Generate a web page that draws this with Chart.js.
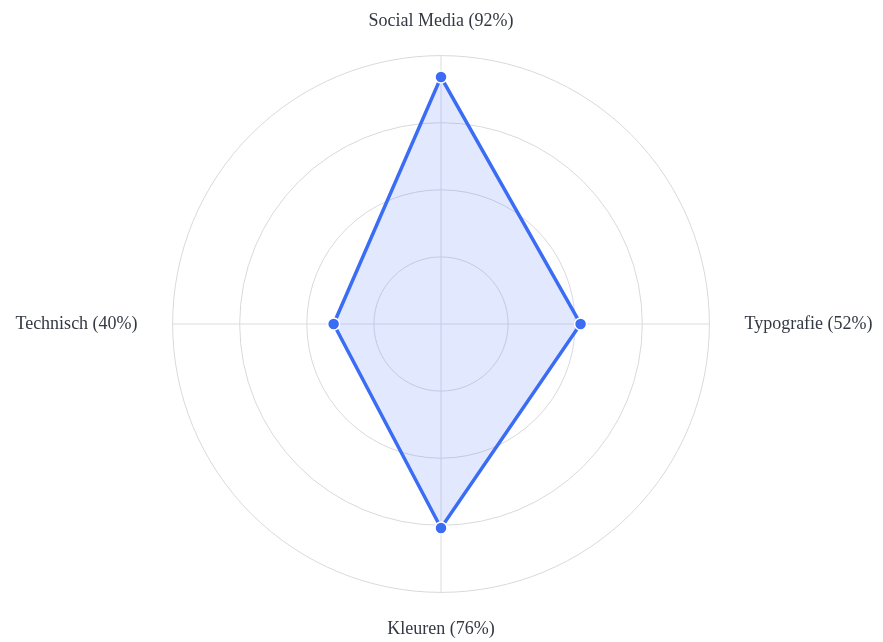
<!DOCTYPE html>
<html>
<head>
<meta charset="utf-8">
<script src="https://cdn.jsdelivr.net/npm/chart.js@4"></script>
<style>
  html, body { margin: 0; padding: 0; background: #fff; }
  .chart-container { width: 883px; height: 642px; }
</style>
</head>
<body>
<div class="chart-container">
  <canvas id="skillsChart"></canvas>
</div>
<script>
const labels = ["Social Media (92%)", "Typografie (52%)", "Kleuren (76%)", "Technisch (40%)"];
const scores = [92, 52, 76, 40];
const tickSteps = [0, 25, 50, 75, 100];

// label gap per axis: top, right, bottom, left
const labelGaps = [24, 35, 26, 35];

const ctx = document.getElementById("skillsChart").getContext("2d");

new Chart(ctx, {
  type: "radar",
  data: {
    labels: labels,
    datasets: [
      {
        label: "Vaardigheden",
        data: scores,
        borderColor: "#3a6cf4",
        backgroundColor: "rgba(59,110,245,0.15)",
        borderWidth: 3.5,
        pointBackgroundColor: "#3a6cf4",
        pointBorderColor: "#ffffff",
        pointBorderWidth: 1.5,
        pointRadius: 6,
        fill: true
      }
    ]
  },
  options: {
    responsive: true,
    maintainAspectRatio: false,
    animation: false,
    layout: { padding: { top: 10, bottom: 1, left: 5 } },
    plugins: {
      legend: { display: false },
      tooltip: { enabled: false }
    },
    scales: {
      r: {
        min: tickSteps[0],
        max: tickSteps[tickSteps.length - 1],
        ticks: { stepSize: 25, display: false },
        grid: { circular: true, color: "#d9d9dd" },
        angleLines: { color: "#dcdce0" },
        pointLabels: {
          color: "#333842",
          padding: (c) => labelGaps[c.index],
          font: { family: "'Liberation Serif', 'Times New Roman', serif", size: 18 }
        }
      }
    }
  }
});
</script>
</body>
</html>
